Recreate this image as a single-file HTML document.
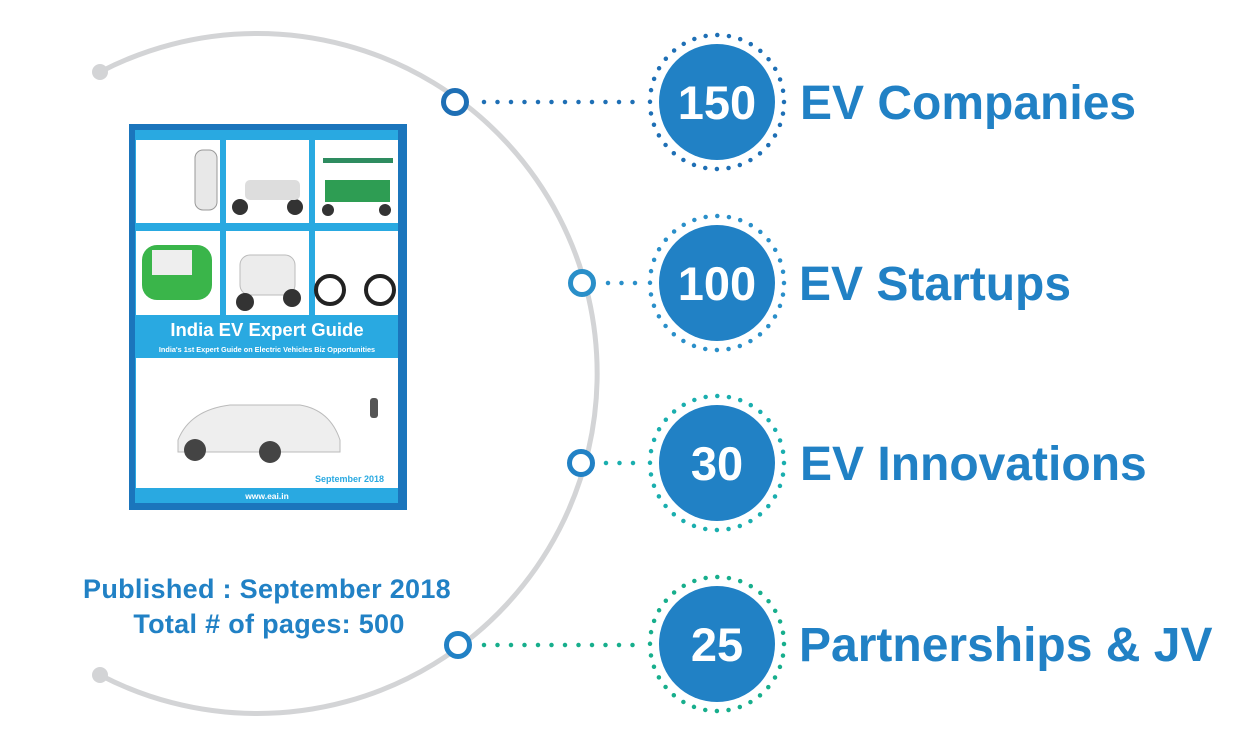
<!DOCTYPE html>
<html><head><meta charset="utf-8"><style>
html,body{margin:0;padding:0;background:#fff;}
body{width:1238px;height:733px;overflow:hidden;font-family:"Liberation Sans","DejaVu Sans",sans-serif;}
</style></head><body>
<svg width="1238" height="733" viewBox="0 0 1238 733" xmlns="http://www.w3.org/2000/svg" font-family="Liberation Sans, DejaVu Sans, sans-serif">
<path d="M100 72 A340 340 0 1 1 100 675" fill="none" stroke="#d3d4d6" stroke-width="5"/>
<circle cx="100" cy="72" r="8" fill="#d3d4d6"/>
<circle cx="100" cy="675" r="8" fill="#d3d4d6"/>

<rect x="129" y="124" width="278" height="386" fill="#1b75bc"/>
<rect x="135" y="130" width="263" height="373" fill="#29a9e1"/>
<rect x="136" y="140" width="84" height="83" fill="#fff"/>
<rect x="226" y="140" width="83" height="83" fill="#fff"/>
<rect x="315" y="140" width="83" height="83" fill="#fff"/>
<rect x="136" y="231" width="84" height="84" fill="#fff"/>
<rect x="226" y="231" width="83" height="84" fill="#fff"/>
<rect x="315" y="231" width="83" height="84" fill="#fff"/>
<rect x="195" y="150" width="22" height="60" rx="8" fill="#e8e8e8" stroke="#999" stroke-width="1"/>
<circle cx="240" cy="207" r="8" fill="#333"/><circle cx="295" cy="207" r="8" fill="#333"/>
<rect x="245" y="180" width="55" height="20" rx="5" fill="#ddd"/>
<rect x="325" y="180" width="65" height="22" fill="#2e9d53"/><rect x="323" y="158" width="70" height="5" fill="#2e8c60"/>
<circle cx="328" cy="210" r="6" fill="#333"/><circle cx="385" cy="210" r="6" fill="#333"/>
<rect x="142" y="245" width="70" height="55" rx="15" fill="#3ab54a"/><rect x="152" y="250" width="40" height="25" fill="#eee"/>
<rect x="240" y="255" width="55" height="40" rx="10" fill="#ececec" stroke="#bbb"/>
<circle cx="245" cy="302" r="9" fill="#333"/><circle cx="292" cy="298" r="9" fill="#333"/>
<circle cx="330" cy="290" r="14" fill="none" stroke="#222" stroke-width="4"/><circle cx="380" cy="290" r="14" fill="none" stroke="#222" stroke-width="4"/>
<rect x="136" y="358" width="262" height="130" fill="#fff"/>
<path d="M178 440 Q190 410 230 405 L300 405 Q330 410 340 440 L340 452 L178 452 Z" fill="#eee" stroke="#bbb"/>
<circle cx="195" cy="450" r="11" fill="#444"/><circle cx="270" cy="452" r="11" fill="#444"/>
<rect x="370" y="398" width="8" height="20" rx="3" fill="#555"/>
<text x="267" y="336" font-size="18.5" font-weight="bold" fill="#fff" text-anchor="middle">India EV Expert Guide</text>
<text x="267" y="352" font-size="7.3" font-weight="bold" fill="#fff" text-anchor="middle">India's 1st Expert Guide on Electric Vehicles Biz Opportunities</text>
<text x="384" y="482" font-size="9" font-weight="bold" fill="#29a9e1" text-anchor="end">September 2018</text>
<text x="267" y="499" font-size="8.5" font-weight="bold" fill="#fff" text-anchor="middle">www.eai.in</text>

<text x="267" y="598" font-size="27" font-weight="bold" fill="#2181c5" text-anchor="middle" letter-spacing="0.3">Published : September 2018</text>
<text x="269" y="633" font-size="27" font-weight="bold" fill="#2181c5" text-anchor="middle" letter-spacing="0.3">Total # of pages: 500</text>

<g>
<line x1="484" y1="102" x2="645" y2="102" stroke="#1e6fb5" stroke-width="4.5" stroke-linecap="round" stroke-dasharray="0 13.5"/>
<circle cx="455" cy="102" r="11.5" fill="#fff" stroke="#1e6fb5" stroke-width="5"/>
<circle cx="717" cy="102" r="67" fill="none" stroke="#1e6fb5" stroke-width="4.5" stroke-linecap="round" stroke-dasharray="0 11.7"/>
<circle cx="717" cy="102" r="58" fill="#2181c5"/>
<text x="717" y="119" font-size="47" font-weight="bold" fill="#fff" text-anchor="middle">150</text>
<text x="800" y="119" font-size="48" font-weight="bold" fill="#2181c5">EV Companies</text>
</g>
<g>
<line x1="608" y1="283" x2="645" y2="283" stroke="#2a8fc9" stroke-width="4.5" stroke-linecap="round" stroke-dasharray="0 13.5"/>
<circle cx="582" cy="283" r="11.5" fill="#fff" stroke="#2a8fc9" stroke-width="5"/>
<circle cx="717" cy="283" r="67" fill="none" stroke="#2a8fc9" stroke-width="4.5" stroke-linecap="round" stroke-dasharray="0 11.7"/>
<circle cx="717" cy="283" r="58" fill="#2181c5"/>
<text x="717" y="300" font-size="47" font-weight="bold" fill="#fff" text-anchor="middle">100</text>
<text x="799" y="300" font-size="48" font-weight="bold" fill="#2181c5">EV Startups</text>
</g>
<g>
<line x1="606" y1="463" x2="645" y2="463" stroke="#1aaeae" stroke-width="4.5" stroke-linecap="round" stroke-dasharray="0 13.5"/>
<circle cx="581" cy="463" r="11.5" fill="#fff" stroke="#2181c5" stroke-width="5"/>
<circle cx="717" cy="463" r="67" fill="none" stroke="#1aaeae" stroke-width="4.5" stroke-linecap="round" stroke-dasharray="0 11.7"/>
<circle cx="717" cy="463" r="58" fill="#2181c5"/>
<text x="717" y="480" font-size="47" font-weight="bold" fill="#fff" text-anchor="middle">30</text>
<text x="800" y="480" font-size="48" font-weight="bold" fill="#2181c5">EV Innovations</text>
</g>
<g>
<line x1="484" y1="645" x2="645" y2="645" stroke="#17ae8c" stroke-width="4.5" stroke-linecap="round" stroke-dasharray="0 13.5"/>
<circle cx="458" cy="645" r="11.5" fill="#fff" stroke="#2181c5" stroke-width="5"/>
<circle cx="717" cy="644" r="67" fill="none" stroke="#17ae8c" stroke-width="4.5" stroke-linecap="round" stroke-dasharray="0 11.7"/>
<circle cx="717" cy="644" r="58" fill="#2181c5"/>
<text x="717" y="661" font-size="47" font-weight="bold" fill="#fff" text-anchor="middle">25</text>
<text x="799" y="661" font-size="48" font-weight="bold" fill="#2181c5">Partnerships &amp; JV</text>
</g>
</svg>
</body></html>
